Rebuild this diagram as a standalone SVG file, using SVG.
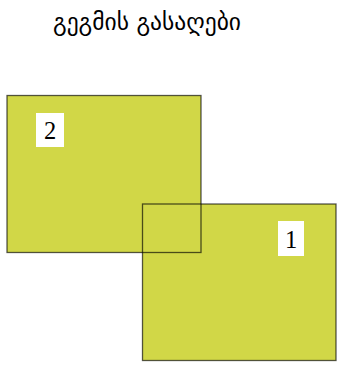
<svg xmlns="http://www.w3.org/2000/svg" width="351" height="371" viewBox="0 0 351 371">
<style>
.area{fill:#d1d747;}
.edge{fill:none;stroke:#000;stroke-opacity:0.65;stroke-width:1.3;}
.lbl{fill:#fff;}
.num{font-family:"Liberation Serif","DejaVu Serif",serif;font-size:24.5px;fill:#000;text-anchor:middle;}
.title{font-family:"DejaVu Sans",sans-serif;font-size:23.5px;fill:#000;text-anchor:middle;}
</style>
<rect width="351" height="371" fill="#fff"/>
<text class="title" x="147" y="30">გეგმის გასაღები</text>
<g id="area-fills">
<rect class="area" x="7" y="95.5" width="194" height="157"/>
<rect class="area" x="142.5" y="204" width="193.5" height="156.5"/>
</g>
<g id="area-2">
<rect class="edge" x="7" y="95.5" width="194" height="157"/>
<rect class="lbl" x="36" y="113" width="28" height="34"/>
<text class="num" x="50" y="138.5">2</text>
</g>
<g id="area-1">
<rect class="edge" x="142.5" y="204" width="193.5" height="156.5"/>
<rect class="lbl" x="278" y="221" width="26" height="35"/>
<text class="num" x="291" y="247.5">1</text>
</g>
<g id="connectors"/>
</svg>
